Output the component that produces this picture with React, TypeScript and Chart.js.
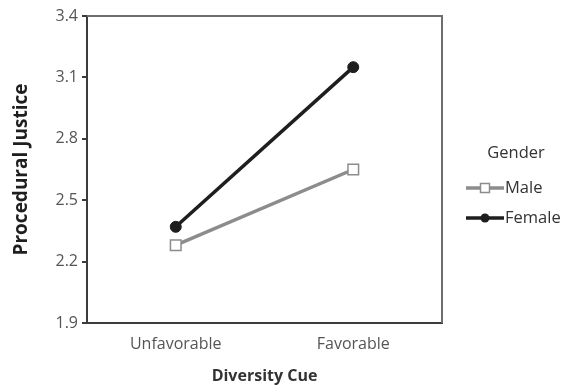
import React, { useEffect, useRef } from "react";
import { Chart, registerables } from "chart.js";

Chart.register(...registerables);

const categories = ["Unfavorable", "Favorable"];
const maleValues = [2.28, 2.65];
const femaleValues = [2.37, 3.15];
const yTicks = [1.9, 2.2, 2.5, 2.8, 3.1, 3.4];
const legendTitle = "Gender";
const seriesNames = ["Male", "Female"];
const xTitle = "Diversity Cue";
const yTitle = "Procedural Justice";

const FONT = "'Open Sans', 'DejaVu Sans', sans-serif";

const boxPlugin = {
  id: "boxAndLegend",
  afterDraw(chart: any) {
    const { ctx, chartArea } = chart;
    const { left, right, top, bottom } = chartArea;
    ctx.save();
    // top and right border
    ctx.strokeStyle = "#6e6e6e";
    ctx.lineWidth = 2;
    ctx.beginPath();
    ctx.moveTo(left, top);
    ctx.lineTo(right, top);
    ctx.lineTo(right, bottom);
    ctx.stroke();

    // legend
    const lx = 466;
    const lw = 38;
    ctx.fillStyle = "#333333";
    ctx.font = `16.5px ${FONT}`;
    ctx.textAlign = "center";
    ctx.textBaseline = "middle";
    ctx.fillText(legendTitle, 516, 153);
    const rows = [
      { y: 188, ds: chart.data.datasets[0] },
      { y: 218, ds: chart.data.datasets[1] },
    ];
    rows.forEach((r, i) => {
      const ds = r.ds;
      ctx.strokeStyle = ds.borderColor;
      ctx.lineWidth = ds.borderWidth;
      ctx.beginPath();
      ctx.moveTo(lx, r.y);
      ctx.lineTo(lx + lw, r.y);
      ctx.stroke();
      const cx = lx + lw / 2;
      if (i === 0) {
        ctx.fillStyle = "#ffffff";
        ctx.strokeStyle = ds.pointBorderColor;
        ctx.lineWidth = 1.5;
        ctx.fillRect(cx - 4.5, r.y - 4.5, 9, 9);
        ctx.strokeRect(cx - 4.5, r.y - 4.5, 9, 9);
      } else {
        ctx.fillStyle = ds.pointBackgroundColor;
        ctx.beginPath();
        ctx.arc(cx, r.y, 4.5, 0, Math.PI * 2);
        ctx.fill();
      }
      ctx.fillStyle = "#333333";
      ctx.textAlign = "left";
      ctx.fillText(seriesNames[i], lx + lw + 1, r.y);
    });
    ctx.restore();
  },
};

export default function App() {
  const ref = useRef<HTMLCanvasElement>(null);
  useEffect(() => {
    if (!ref.current) return;
    const chart = new Chart(ref.current, {
      type: "line",
      data: {
        labels: categories,
        datasets: [
          {
            label: seriesNames[0],
            data: maleValues,
            borderColor: "#8c8c8c",
            borderWidth: 3.5,
            pointStyle: "rect",
            pointRadius: 7.5,
            pointBackgroundColor: "#ffffff",
            pointBorderColor: "#8c8c8c",
            pointBorderWidth: 1.5,
          },
          {
            label: seriesNames[1],
            data: femaleValues,
            borderColor: "#1e1e1e",
            borderWidth: 3.5,
            pointStyle: "circle",
            pointRadius: 5.5,
            pointBackgroundColor: "#1e1e1e",
            pointBorderColor: "#1e1e1e",
            pointBorderWidth: 1,
          },
        ],
      },
      options: {
        animation: false,
        responsive: false,
        maintainAspectRatio: false,
        layout: { padding: { top: 16, right: 126, left: 0, bottom: 0 } },
        plugins: {
          legend: { display: false },
          tooltip: { enabled: false },
        },
        scales: {
          x: {
            offset: true,
            grid: { display: true, drawOnChartArea: false, drawTicks: false },
            border: { display: true, color: "#3c3c3c", width: 2 },
            ticks: {
              color: "#555555",
              font: { family: FONT, size: 16 },
              padding: 12,
            },
            title: {
              display: true,
              text: xTitle,
              color: "#333333",
              font: { family: FONT, size: 16, weight: "bold" },
              padding: { top: 3, bottom: 0 },
            },
            afterFit: (s: any) => {
              s.height = 63;
            },
          },
          y: {
            min: 1.9,
            max: 3.4,
            afterBuildTicks: (s: any) => {
              s.ticks = yTicks.map((v) => ({ value: v }));
            },
            grid: {
              display: true,
              drawOnChartArea: false,
              drawTicks: true,
              tickLength: 5,
              color: "#3c3c3c",
              lineWidth: 2,
            },
            border: { display: true, color: "#3c3c3c", width: 2 },
            ticks: {
              color: "#555555",
              font: { family: FONT, size: 16 },
              padding: 4,
              callback: (v: any) => Number(v).toFixed(1),
            },
            title: {
              display: true,
              text: yTitle,
              color: "#1e1e1e",
              font: { family: FONT, size: 19, weight: "bold" },
              padding: { top: 10, bottom: 0 },
            },
            afterFit: (s: any) => {
              s.width = 87;
            },
          },
        },
      },
      plugins: [boxPlugin],
    });
    return () => chart.destroy();
  }, []);
  return (
    <div style={{ position: "fixed", left: 0, top: 0, width: 568, height: 386, background: "#fff" }}>
      <canvas ref={ref} width={568} height={386} style={{ width: 568, height: 386 }} />
    </div>
  );
}
